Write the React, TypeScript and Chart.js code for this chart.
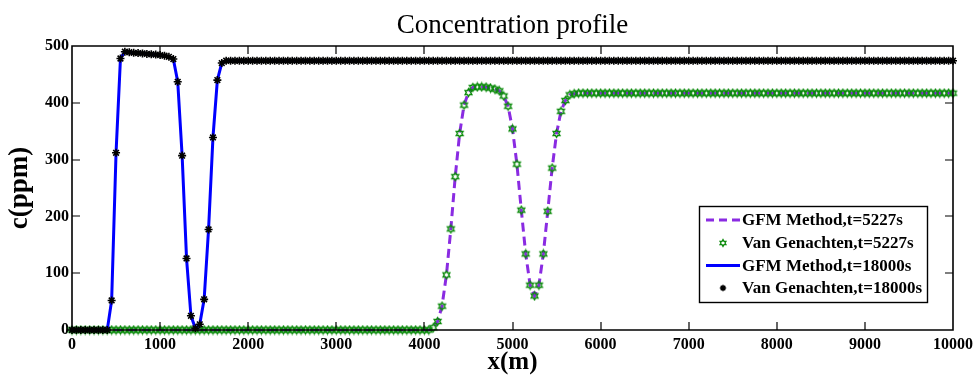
import React, { useEffect, useRef } from 'react';
import { Chart, registerables } from 'chart.js';

Chart.register(...registerables);

const TITLE = 'Concentration profile';
const X_LABEL = 'x(m)';
const Y_LABEL = 'c(ppm)';
const X_TICKS = [0, 1000, 2000, 3000, 4000, 5000, 6000, 7000, 8000, 9000, 10000];
const Y_TICKS = [0, 100, 200, 300, 400, 500];
const SERIES_LABELS = [
  'GFM Method,t=5227s',
  'Van Genachten,t=5227s',
  'GFM Method,t=18000s',
  'Van Genachten,t=18000s',
];

// sampling grid: 0 .. 10000 m, every 50 m
const xPositions: number[] = Array.from({ length: 201 }, (_, i) => i * 50);

// concentration at t = 5227 s (ppm)
const c5227: number[] = [
  0, 0, 0, 0, 0, 0, 0, 0, 0, 0, 0, 0, 0, 0, 0, 0, 0, 0, 0, 0,
  0, 0, 0, 0, 0, 0, 0, 0, 0, 0, 0, 0, 0, 0, 0, 0, 0, 0, 0, 0,
  0, 0, 0, 0, 0, 0, 0, 0, 0, 0, 0, 0, 0, 0, 0, 0, 0, 0, 0, 0,
  0, 0, 0, 0, 0, 0, 0, 0, 0, 0, 0, 0, 0, 0, 0, 0, 0, 0, 0, 0,
  0, 0,
  4, 15, 42, 97, 178, 270, 346, 396, 418, 427, 428, 428, 427.5, 426, 424, 421, 412, 394, 354, 292,
  211, 134, 79, 60, 79, 134, 209, 285, 346, 385, 404, 414, 416,
  417, 417, 417, 417, 417, 417, 417, 417, 417, 417, 417, 417, 417, 417, 417, 417, 417, 417, 417, 417,
  417, 417, 417, 417, 417, 417, 417, 417, 417, 417, 417, 417, 417, 417, 417, 417, 417, 417, 417, 417,
  417, 417, 417, 417, 417, 417, 417, 417, 417, 417, 417, 417, 417, 417, 417, 417, 417, 417, 417, 417,
  417, 417, 417, 417, 417, 417, 417, 417, 417, 417, 417, 417, 417, 417, 417, 417, 417, 417, 417, 417,
  417, 417, 417, 417, 417, 417,
];

// concentration at t = 18000 s (ppm)
const c18000: number[] = [
  0, 0, 0, 0, 0, 0, 0, 0, 0,
  52, 312, 478, 490, 489, 488, 487.5, 487, 486, 485.5, 485, 484, 483, 481, 477, 437, 307, 126, 25, 3,
  10, 54, 177, 339, 440, 470,
  474, 474, 474, 474, 474, 474, 474, 474, 474, 474, 474, 474, 474, 474, 474, 474, 474, 474, 474, 474,
  474, 474, 474, 474, 474, 474, 474, 474, 474, 474, 474, 474, 474, 474, 474, 474, 474, 474, 474, 474,
  474, 474, 474, 474, 474, 474, 474, 474, 474, 474, 474, 474, 474, 474, 474, 474, 474, 474, 474, 474,
  474, 474, 474, 474, 474, 474, 474, 474, 474, 474, 474, 474, 474, 474, 474, 474, 474, 474, 474, 474,
  474, 474, 474, 474, 474, 474, 474, 474, 474, 474, 474, 474, 474, 474, 474, 474, 474, 474, 474, 474,
  474, 474, 474, 474, 474, 474, 474, 474, 474, 474, 474, 474, 474, 474, 474, 474, 474, 474, 474, 474,
  474, 474, 474, 474, 474, 474, 474, 474, 474, 474, 474, 474, 474, 474, 474, 474, 474, 474, 474, 474,
  474, 474, 474, 474, 474, 474, 474, 474, 474, 474, 474, 474, 474, 474, 474, 474, 474, 474, 474, 474,
  474, 474, 474, 474, 474, 474,
];

const SERIF = "'Liberation Serif', 'Times New Roman', serif";
const PURPLE = '#8a2be2';
const BLUE = '#0000ff';
const GREEN = '#0a8a0a';

function hexagramPath(ctx: CanvasRenderingContext2D, cx: number, cy: number, r: number) {
  const ri = r / Math.sqrt(3);
  ctx.beginPath();
  for (let k = 0; k < 12; k++) {
    const a = -Math.PI / 2 + (k * Math.PI) / 6;
    const rr = k % 2 === 0 ? r : ri;
    const px = cx + rr * Math.cos(a);
    const py = cy + rr * Math.sin(a);
    if (k === 0) ctx.moveTo(px, py);
    else ctx.lineTo(px, py);
  }
  ctx.closePath();
}

function makeHexagram(size: number, r: number): HTMLCanvasElement {
  const c = document.createElement('canvas');
  c.width = size;
  c.height = size;
  const g = c.getContext('2d')!;
  g.strokeStyle = GREEN;
  g.lineWidth = 1.4;
  hexagramPath(g, size / 2, size / 2, r);
  g.stroke();
  return c;
}

function asterisk(ctx: CanvasRenderingContext2D, cx: number, cy: number, r: number) {
  ctx.beginPath();
  for (let k = 0; k < 4; k++) {
    const a = (k * Math.PI) / 4;
    ctx.moveTo(cx - r * Math.cos(a), cy - r * Math.sin(a));
    ctx.lineTo(cx + r * Math.cos(a), cy + r * Math.sin(a));
  }
  ctx.stroke();
}

function drawFrame(chart: any) {
  const ctx: CanvasRenderingContext2D = chart.ctx;
  const area = chart.chartArea;
  const xs = chart.scales.x;
  const ys = chart.scales.y;
  const L = Math.round(area.left);
  const R = Math.round(area.right);
  const T = Math.round(area.top);
  const B = Math.round(area.bottom);
  const TL = 8;
  ctx.save();
  ctx.setLineDash([]);
  ctx.lineCap = 'butt';
  ctx.strokeStyle = '#000000';
  ctx.lineWidth = 1.6;
  ctx.beginPath();
  ctx.rect(L, T, R - L, B - T);
  ctx.stroke();
  ctx.lineWidth = 1.2;
  ctx.beginPath();
  X_TICKS.slice(1, -1).forEach((v) => {
    const px = Math.round(xs.getPixelForValue(v));
    ctx.moveTo(px, B);
    ctx.lineTo(px, B - TL);
    ctx.moveTo(px, T);
    ctx.lineTo(px, T + TL);
  });
  Y_TICKS.slice(1, -1).forEach((v) => {
    const py = Math.round(ys.getPixelForValue(v));
    ctx.moveTo(L, py);
    ctx.lineTo(L + TL, py);
    ctx.moveTo(R, py);
    ctx.lineTo(R - TL, py);
  });
  ctx.stroke();
  ctx.restore();
}

function drawLegend(chart: any) {
  const ctx: CanvasRenderingContext2D = chart.ctx;
  const bx = 699.5, by = 206.5, bw = 228, bh = 96;
  const rows = [220, 243, 265.5, 288];
  const lx0 = 706, lx1 = 740, tx = 742;
  ctx.save();
  ctx.fillStyle = '#fff';
  ctx.fillRect(bx, by, bw, bh);
  ctx.strokeStyle = '#000';
  ctx.lineWidth = 1.4;
  ctx.strokeRect(bx, by, bw, bh);

  ctx.strokeStyle = PURPLE;
  ctx.lineWidth = 3;
  ctx.setLineDash([8, 5]);
  ctx.beginPath();
  ctx.moveTo(lx0, rows[0]);
  ctx.lineTo(lx1, rows[0]);
  ctx.stroke();
  ctx.setLineDash([]);

  ctx.strokeStyle = GREEN;
  ctx.lineWidth = 1.3;
  hexagramPath(ctx, (lx0 + lx1) / 2, rows[1], 3.4);
  ctx.stroke();

  ctx.strokeStyle = BLUE;
  ctx.lineWidth = 3;
  ctx.beginPath();
  ctx.moveTo(lx0, rows[2]);
  ctx.lineTo(lx1, rows[2]);
  ctx.stroke();

  ctx.strokeStyle = '#000';
  ctx.lineWidth = 1.5;
  asterisk(ctx, (lx0 + lx1) / 2, rows[3], 3.2);

  ctx.fillStyle = '#000';
  ctx.font = `bold 17px ${SERIF}`;
  ctx.textAlign = 'left';
  ctx.textBaseline = 'middle';
  SERIES_LABELS.forEach((t, i) => ctx.fillText(t, tx, rows[i] + 1));
  ctx.restore();
}

const overlayPlugin = {
  id: 'matlabOverlay',
  afterDraw(chart: any) {
    drawFrame(chart);
    drawLegend(chart);
  },
};

export default function App() {
  const ref = useRef<HTMLCanvasElement>(null);

  useEffect(() => {
    document.body.style.margin = '0';
    const canvas = ref.current!;
    const hex = makeHexagram(11, 3.9);
    const pts = (vals: number[]) => xPositions.map((x, i) => ({ x, y: vals[i] }));

    const chart = new Chart(canvas, {
      type: 'line',
      data: {
        datasets: [
          {
            label: SERIES_LABELS[0],
            data: pts(c5227),
            borderColor: PURPLE,
            borderWidth: 3,
            borderDash: [9, 5],
            pointRadius: 0,
            fill: false,
            clip: false as any,
            order: 4,
          },
          {
            label: SERIES_LABELS[1],
            data: pts(c5227),
            showLine: false,
            pointStyle: hex as any,
            pointRadius: 4,
            clip: false as any,
            order: 3,
          },
          {
            label: SERIES_LABELS[2],
            data: pts(c18000),
            borderColor: BLUE,
            borderWidth: 3,
            pointRadius: 0,
            fill: false,
            clip: false as any,
            order: 2,
          },
          {
            label: SERIES_LABELS[3],
            data: pts(c18000),
            showLine: false,
            pointStyle: 'star',
            pointRadius: 4,
            borderColor: '#000',
            backgroundColor: '#000',
            pointBorderWidth: 1.6,
            clip: false as any,
            order: 1,
          },
        ],
      },
      options: {
        responsive: false,
        animation: false,
        devicePixelRatio: 1,
        layout: { padding: { left: 0, right: 24, top: 0, bottom: 0 } },
        plugins: {
          legend: { display: false },
          tooltip: { enabled: false },
          title: {
            display: true,
            fullSize: false,
            text: TITLE,
            color: '#000',
            font: { family: SERIF, size: 27, weight: 'normal' },
            padding: { top: 10, bottom: 3.6 },
          },
        },
        scales: {
          x: {
            type: 'linear',
            position: 'bottom',
            min: 0,
            max: 10000,
            grid: { display: false, drawTicks: false },
            border: { display: false },
            afterBuildTicks: (s: any) => {
              s.ticks = X_TICKS.map((v) => ({ value: v }));
            },
            ticks: {
              color: '#000',
              padding: 5,
              maxRotation: 0,
              autoSkip: false,
              font: { family: SERIF, size: 16, weight: 'bold' },
              callback: (v: any) => String(v),
            },
            title: {
              display: true,
              text: X_LABEL,
              color: '#000',
              font: { family: SERIF, size: 25, weight: 'bold', lineHeight: 1 },
              padding: { top: 0, bottom: 1 },
            },
            afterFit: (s: any) => {
              s.height = 46;
              s.paddingLeft = 0;
              s.paddingRight = 0;
            },
          },
          y: {
            type: 'linear',
            min: 0,
            max: 500,
            grid: { display: false, drawTicks: false },
            border: { display: false },
            afterBuildTicks: (s: any) => {
              s.ticks = Y_TICKS.map((v) => ({ value: v }));
            },
            ticks: {
              color: '#000',
              padding: 3,
              font: { family: SERIF, size: 16, weight: 'bold' },
              callback: (v: any) => String(v),
            },
            title: {
              display: true,
              text: Y_LABEL,
              color: '#000',
              font: { family: SERIF, size: 27, weight: 'bold', lineHeight: 1.2 },
              padding: { top: 4, bottom: 0 },
            },
            afterFit: (s: any) => {
              s.width = 72;
              s.paddingTop = 0;
              s.paddingBottom = 0;
            },
          },
        },
      } as any,
      plugins: [overlayPlugin],
    });

    return () => chart.destroy();
  }, []);

  return (
    <div style={{ width: 977, height: 376, position: 'relative' }}>
      <canvas ref={ref} width={977} height={376} style={{ display: 'block' }} />
    </div>
  );
}
